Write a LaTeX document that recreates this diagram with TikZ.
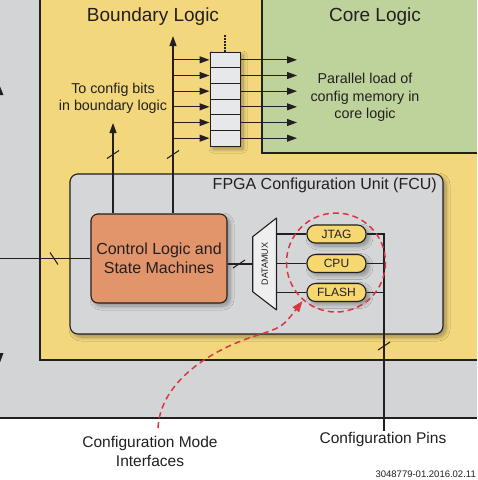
\documentclass[tikz,border=0pt]{standalone}
\usepackage{fontspec}
\setmainfont{Liberation Sans}
\usetikzlibrary{arrows.meta,shadows,shadows.blur}
\definecolor{bggray}{HTML}{D3D4D6}
\definecolor{byellow}{HTML}{F3D77C}
\definecolor{cgreen}{HTML}{BED39C}
\definecolor{fcugray}{HTML}{D5D6D8}
\definecolor{ctrlorange}{HTML}{E2956A}
\definecolor{pillyellow}{HTML}{F6D770}
\definecolor{cellgray}{HTML}{E7E8EA}
\definecolor{muxfill}{HTML}{EFEFF0}
\definecolor{redd}{HTML}{D8383F}
\definecolor{ink}{HTML}{231F20}
\newcommand{\fs}[2]{\fontsize{#1}{#2}\selectfont}
\tikzset{
  wire/.style={draw=ink, line width=1.1pt},
  arr/.style={wire, -{Triangle[length=10pt,width=7pt]}},
  border/.style={draw=ink, line width=1.1pt},
  shad/.style={blur shadow={shadow blur steps=8, shadow xshift=3pt, shadow yshift=-3pt,
     shadow blur radius=4pt, shadow opacity=35}},
  title/.style={font=\fs{19}{22}, text=ink},
  lbl/.style={font=\fs{14.3}{17.5}, text=ink, align=center},
  fcubox/.style={draw=ink, line width=1.1pt, fill=fcugray, rounded corners=8pt,
     minimum width=373pt, minimum height=160pt, inner sep=0pt, shad},
  ctrlbox/.style={draw=ink, line width=1.1pt, fill=ctrlorange, rounded corners=7pt,
     minimum width=136pt, minimum height=89pt, inner sep=0pt, align=center,
     font=\fs{16}{19}, text=ink, shad},
  pill/.style={draw=ink, line width=1.1pt, fill=pillyellow, rounded corners=8.5pt,
     minimum width=59pt, minimum height=18pt, inner sep=0pt, font=\fs{12}{14}, text=ink, shad},
  cell/.style={draw=ink, line width=1pt, fill=cellgray, minimum width=30pt,
     minimum height=15.67pt, inner sep=0pt},
  regbox/.style={draw=ink, line width=1pt, fill=cellgray, minimum width=30pt,
     minimum height=94pt, inner sep=0pt, shad},
  reddash/.style={draw=redd, line width=1.5pt, dash pattern=on 6pt off 4pt},
  tickmark/.style={draw=ink, line width=1.1pt}
}
\begin{document}
\begin{tikzpicture}[x=1pt,y=-1pt]
\useasboundingbox (0,0) rectangle (478,480);
\fill[white] (0,0) rectangle (478,480);
% regions
\fill[bggray] (0,0) rectangle (477,418);
\draw[wire] (0,418) -- (477,418);
\fill[byellow] (40,0) rectangle (477,360);
\draw[border] (40,0) -- (40,360) -- (477,360);
\fill[cgreen] (262,0) rectangle (477,153);
\draw[border] (262,0) -- (262,153) -- (477,153);
% cut-off arrowheads at the left edge
\fill[ink] (-1,84) -- (3.5,95) -- (-5.5,95) -- cycle;
\fill[ink] (-1,365) -- (3.5,353) -- (-5.5,353) -- cycle;
% titles
\node[title] (bltitle) at (153,17) {Boundary Logic};
\node[title] (cltitle) at (375,17) {Core Logic};
% FCU
\node[fcubox] (fcu) at (256.5,254) {};
\node[anchor=east, font=\fs{16}{19}, text=ink, inner sep=0pt] (fcul) at (437,185) {FPGA Configuration Unit (FCU)};
\node[ctrlbox] (ctrl) at (159,258.5) {Control Logic and\\State Machines};
% register
\node[regbox] (reg) at (225,99) {};
\foreach \i in {1,...,6}{
  \node[cell] (r\i) at (225,{52+15.667*(\i-0.5)}) {};
}
\coordinate (dotTop) at (225,34);
\draw[ink, line width=1.1pt, dash pattern=on 1.5pt off 1.5pt] (r1.north) -- (dotTop);
% buses
\coordinate (busTop) at (173,36);
\coordinate (cfgTop) at (113,123);
\coordinate (outX) at (297,0);
\draw[arr] (ctrl.north -| busTop) -- (busTop);
\draw[arr] (ctrl.north -| cfgTop) -- (cfgTop);
\foreach \i in {1,...,6}{
  \draw[arr] (r\i.west -| busTop) -- (r\i.west);
  \draw[arr] (r\i.east) -- (r\i.east -| outX);
}
\coordinate (tk1) at (113,154.5);
\coordinate (tk2) at (173,154.5);
\draw[tickmark] ([shift={(-6,4)}]tk1) -- ([shift={(6,-4)}]tk1);
\draw[tickmark] ([shift={(-6,4)}]tk2) -- ([shift={(6,-4)}]tk2);
\node[lbl] (tocfg) at (113,98.5) {To config bits\\in boundary logic};
\node[lbl] (parl) at (365,97.5) {Parallel load of\\config memory in\\core logic};
% input line
\coordinate (leftIn) at (0,258.5);
\draw[wire] (leftIn) -- (ctrl.west);
\coordinate (tk3) at (54,258.5);
\draw[tickmark] ([shift={(-4,-6)}]tk3) -- ([shift={(4,6)}]tk3);
% DATAMUX
\coordinate (muxTL) at (252.7,236.7);
\coordinate (muxTR) at (276.5,218);
\coordinate (muxBR) at (276.5,310);
\coordinate (muxBL) at (252.7,291.7);
\coordinate (muxL) at (252.7,264);
\coordinate (muxR) at (276.5,264);
\draw[wire, fill=muxfill, line join=round] (muxTL) -- (muxTR) -- (muxBR) -- (muxBL) -- cycle;
\node[rotate=90, font=\fs{9}{10}, text=ink, inner sep=0pt] (mux) at (264.8,264) {DATAMUX};
\draw[wire] (ctrl.east |- muxL) -- (muxL);
\coordinate (tk4) at (239,264);
\draw[tickmark] ([shift={(-6,4)}]tk4) -- ([shift={(6,-4)}]tk4);
% pills
\node[pill] (jtag) at (336.5,234) {JTAG};
\node[pill] (cpu) at (336.5,263.5) {CPU};
\node[pill] (flash) at (336.5,292.5) {FLASH};
\draw[wire] (jtag.west -| muxR) -- (jtag.west);
\draw[wire] (cpu.west -| muxR) -- (cpu.west);
\draw[wire] (flash.west -| muxR) -- (flash.west);
\coordinate (pinX) at (384,234);
\node[font=\fs{15.5}{19}, text=ink, inner sep=1pt] (cpins) at (383,439.5) {Configuration Pins};
\draw[wire] (jtag.east) -- (jtag.east -| pinX) -- (pinX |- cpins.north);
\draw[wire] (cpu.east) -- (cpu.east -| pinX);
\draw[wire] (flash.east) -- (flash.east -| pinX);
\coordinate (tk5) at (384,346);
\draw[tickmark] ([shift={(-6,4)}]tk5) -- ([shift={(6,-4)}]tk5);
% red circle and arrow
\coordinate (ringC) at (336,262.5);
\draw[reddash] (ringC) circle[radius=49.5];
\node[font=\fs{15.5}{19}, text=ink, align=center, inner sep=1pt] (cmi) at (150,451.5) {Configuration Mode\\Interfaces};
\coordinate (cmiS) at (158,428);
\coordinate (cmiM) at (255,336);
\coordinate (cmiT) at (302.5,301);
\draw[reddash, -{Triangle[length=11pt,width=8pt,fill=redd]}] (cmiS) .. controls (160,385) and (205,352) .. (cmiM) .. controls (282.4,327.1) .. (cmiT);
% footer
\node[anchor=east, font=\fs{9.5}{11}, text=ink, inner sep=0pt] (foot) at (476,474) {3048779-01.2016.02.11};
\end{tikzpicture}
\end{document}
